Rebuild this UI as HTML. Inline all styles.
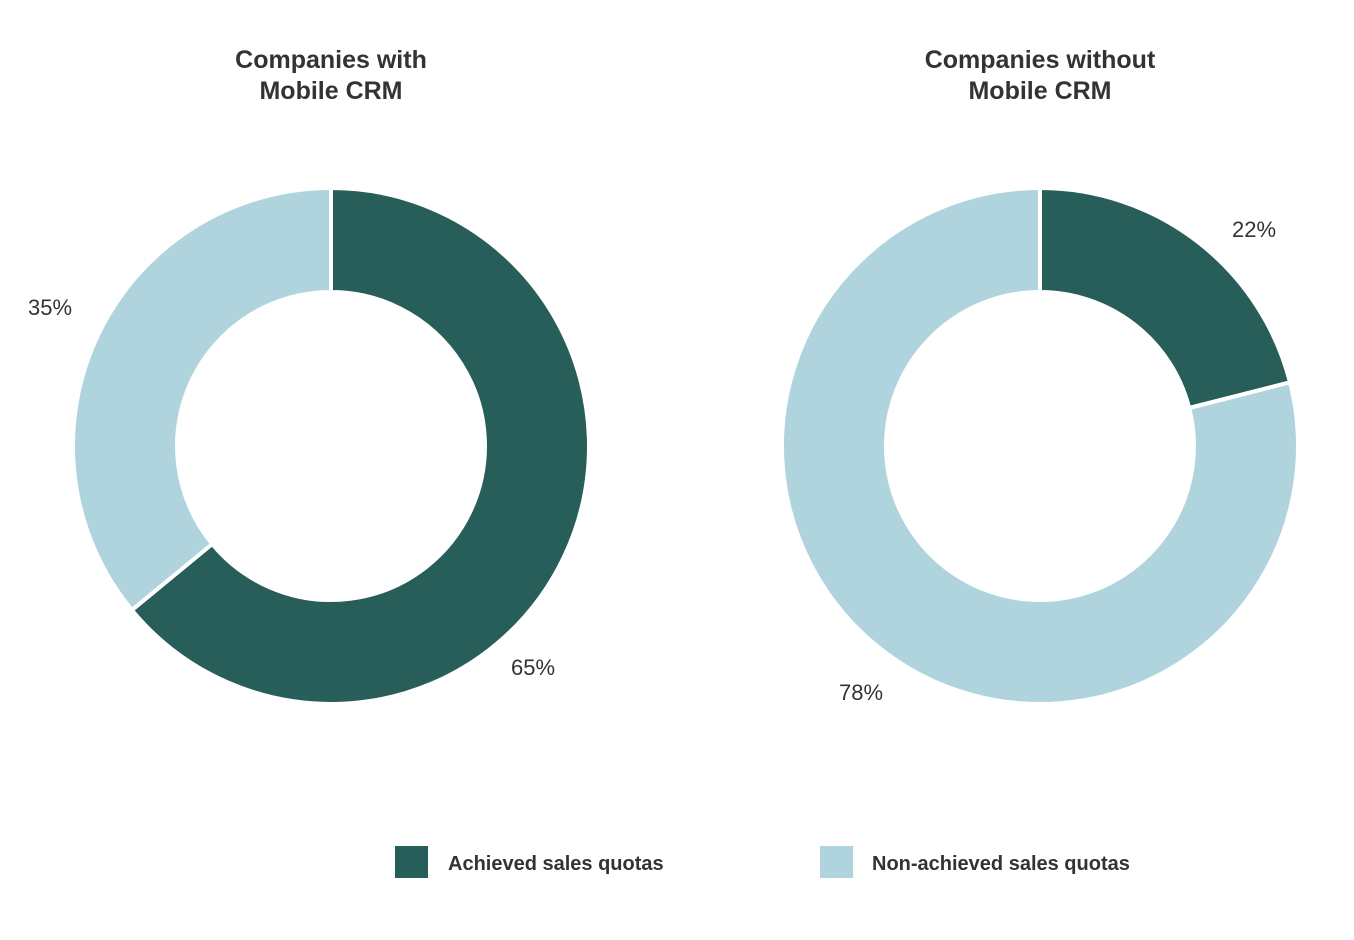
<!DOCTYPE html>
<html><head><meta charset="utf-8"><style>
body{margin:0;background:#fff;width:1354px;height:940px;overflow:hidden}
svg{display:block}
text{font-family:"Liberation Sans",sans-serif;fill:#333}
</style></head><body>
<svg width="1354" height="940" viewBox="0 0 1354 940">
<g stroke="#fff" stroke-width="4">
<path d="M331 188 A258 258 0 1 1 131.9 610.1 L212.2 544 A154 154 0 1 0 331 292 Z" fill="#275e59"/>
<path d="M131.9 610.1 A258 258 0 0 1 331 188 L331 292 A154 154 0 0 0 212.2 544 Z" fill="#b0d4dd"/>
<path d="M1040 188 A258 258 0 0 1 1290 382.3 L1189.2 408 A154 154 0 0 0 1040 292 Z" fill="#275e59"/>
<path d="M1290 382.3 A258 258 0 1 1 1040 188 L1040 292 A154 154 0 1 0 1189.2 408 Z" fill="#b0d4dd"/>
</g>
<g font-size="25" font-weight="bold" text-anchor="middle">
<text x="331" y="68">Companies with</text>
<text x="331" y="99">Mobile CRM</text>
<text x="1040" y="68">Companies without</text>
<text x="1040" y="99">Mobile CRM</text>
</g>
<g font-size="22">
<text x="28" y="315">35%</text>
<text x="511" y="675">65%</text>
<text x="1232" y="237">22%</text>
<text x="839" y="700">78%</text>
</g>
<rect x="395" y="846" width="33" height="32" fill="#275e59"/>
<rect x="820" y="846" width="33" height="32" fill="#b0d4dd"/>
<g font-size="20" font-weight="bold">
<text x="448" y="870">Achieved sales quotas</text>
<text x="872" y="870">Non-achieved sales quotas</text>
</g>
</svg>
</body></html>
